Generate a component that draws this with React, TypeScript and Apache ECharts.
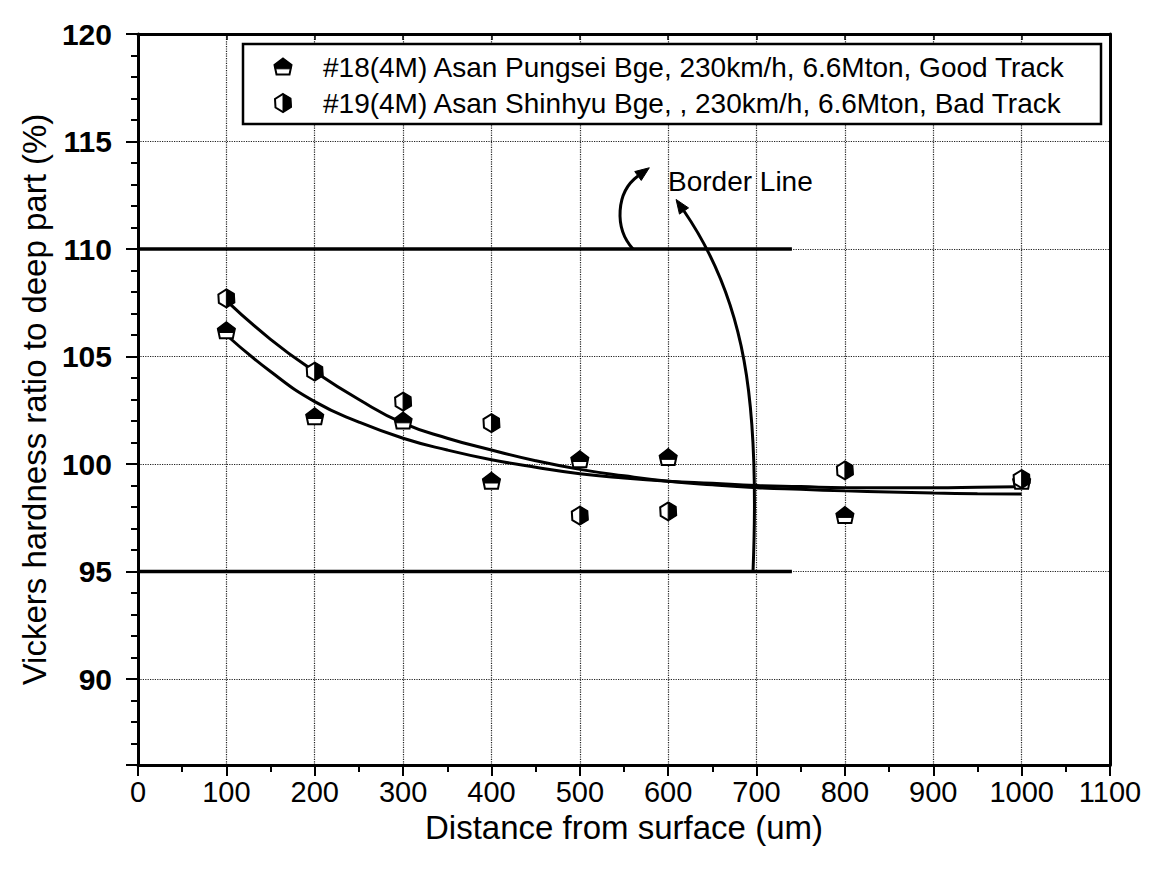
import React, { useEffect, useRef } from "react";
import * as echarts from "echarts";

// Measured points: distance from surface (um) vs hardness ratio (%)
const distances = [100, 200, 300, 400, 500, 600, 800, 1000];
const goodTrack = [106.2, 102.2, 102.0, 99.2, 100.2, 100.3, 97.6, 99.2];
const badTrack = [107.7, 104.3, 102.9, 101.9, 97.6, 97.8, 99.7, 99.3];

// Fitted decay curves, sampled every 50 um
const fitX = [100, 150, 200, 250, 300, 350, 400, 450, 500, 550, 600, 650, 700, 750, 800, 850, 900, 950, 1000];
const goodFit = [106.0, 104.3, 102.9, 101.95, 101.2, 100.65, 100.2, 99.85, 99.55, 99.35, 99.2, 99.1, 99.0, 98.95, 98.9, 98.9, 98.9, 98.92, 98.95];
const badFit = [107.6, 105.8, 104.3, 103.0, 101.9, 101.2, 100.65, 100.15, 99.75, 99.45, 99.2, 99.03, 98.9, 98.82, 98.75, 98.7, 98.65, 98.62, 98.6];

// Border lines
const borderLevels = [110, 95];
const borderRange = [0, 740];

const legendLabels = [
  "#18(4M) Asan Pungsei Bge, 230km/h, 6.6Mton, Good Track",
  "#19(4M) Asan Shinhyu Bge, , 230km/h, 6.6Mton, Bad Track",
];

const FONT = "'Liberation Sans', Arial, Helvetica, sans-serif";

type Pt = [number, number];

const shift = (pts: Pt[], cx: number, cy: number): Pt[] =>
  pts.map(([x, y]) => [cx + x, cy + y] as Pt);

// "House" pentagon: dark roof, white body
function pentagonMark(cx: number, cy: number) {
  const outline: Pt[] = [[0, -8.5], [8.5, -2], [6.5, 7.5], [-6.5, 7.5], [-8.5, -2]];
  const roof: Pt[] = [[0, -8.5], [8.5, -2], [7.7, 1.8], [-7.7, 1.8], [-8.5, -2]];
  return [
    { type: "polygon", shape: { points: shift(outline, cx, cy) }, style: { fill: "#fff", stroke: "#000", lineWidth: 2 } },
    { type: "polygon", shape: { points: shift(roof, cx, cy) }, style: { fill: "#000", stroke: "#000", lineWidth: 1 } },
  ];
}

// Hexagonal dot: left half white, right half dark
function halfDotMark(cx: number, cy: number) {
  const outline: Pt[] = [[0, -9], [7.5, -4.5], [8, 4], [0, 9], [-7.5, 4.5], [-8, -4]];
  const right: Pt[] = [[0, -9], [7.5, -4.5], [8, 4], [0, 9]];
  return [
    { type: "polygon", shape: { points: shift(outline, cx, cy) }, style: { fill: "#fff", stroke: "#000", lineWidth: 2 } },
    { type: "polygon", shape: { points: shift(right, cx, cy) }, style: { fill: "#000", stroke: "#000", lineWidth: 1 } },
  ];
}

// Curved arrow with a filled head at its end
function curvedArrow(p0: Pt, c1: Pt, c2: Pt, p1: Pt) {
  const dx = p1[0] - c2[0];
  const dy = p1[1] - c2[1];
  const len = Math.hypot(dx, dy) || 1;
  const ux = dx / len;
  const uy = dy / len;
  const headLen = 14;
  const halfW = 5.5;
  const tip: Pt = [p1[0] + ux * headLen, p1[1] + uy * headLen];
  const b1: Pt = [p1[0] - uy * halfW, p1[1] + ux * halfW];
  const b2: Pt = [p1[0] + uy * halfW, p1[1] - ux * halfW];
  return [
    {
      type: "bezierCurve",
      shape: { x1: p0[0], y1: p0[1], cpx1: c1[0], cpy1: c1[1], cpx2: c2[0], cpy2: c2[1], x2: p1[0], y2: p1[1] },
      style: { stroke: "#000", lineWidth: 3, fill: "none" },
      z: 50,
    },
    { type: "polygon", shape: { points: [tip, b1, b2] }, style: { fill: "#000", stroke: "#000", lineWidth: 1 }, z: 50 },
  ];
}

function markerSeries(name: string, values: number[], draw: (x: number, y: number) => any[]) {
  return {
    name,
    type: "custom",
    coordinateSystem: "cartesian2d",
    xAxisIndex: 0,
    yAxisIndex: 0,
    clip: false,
    z: 10,
    encode: { x: 0, y: 1 },
    data: distances.map((d, i) => [d, values[i]]),
    renderItem: (_params: any, api: any) => {
      const p = api.coord([api.value(0), api.value(1)]);
      return { type: "group", children: draw(p[0], p[1]) };
    },
  };
}

function fitSeries(name: string, values: number[]) {
  return {
    name,
    type: "line",
    smooth: true,
    showSymbol: false,
    symbol: "none",
    z: 5,
    lineStyle: { color: "#000", width: 3 },
    data: fitX.map((x, i) => [x, values[i]]),
  };
}

export default function App() {
  const ref = useRef<HTMLDivElement>(null);

  useEffect(() => {
    if (!ref.current) return;
    const chart = echarts.init(ref.current, undefined, { renderer: "svg" });

    const axisBlack = { color: "#000", width: 3 };
    const dotted = { type: "dotted" as const, color: "#222", width: 1.2 };

    const legendX = 243;
    const legendY = 44;
    const rowYs = [67, 103];

    const option: any = {
      animation: false,
      backgroundColor: "#fff",
      grid: { left: 138, right: 41, top: 34, bottom: 105, containLabel: false },
      xAxis: [
        {
          type: "value",
          position: "bottom",
          min: 0,
          max: 1100,
          interval: 100,
          name: "Distance from surface (um)",
          nameLocation: "middle",
          nameGap: 44,
          nameTextStyle: { fontFamily: FONT, fontSize: 33, color: "#000" },
          axisLine: { show: true, onZero: false, lineStyle: axisBlack },
          axisTick: { show: true, inside: false, length: 11, lineStyle: { color: "#000", width: 2 } },
          minorTick: { show: true, splitNumber: 2, length: 7, lineStyle: { color: "#000", width: 2 } },
          axisLabel: {
            fontFamily: FONT,
            fontSize: 29,
            color: "#000",
            margin: 12,
            formatter: (v: number) => String(v),
          },
          splitLine: { show: true, lineStyle: dotted },
        },
        {
          type: "value",
          position: "top",
          min: 0,
          max: 1100,
          interval: 100,
          axisLine: { show: true, onZero: false, lineStyle: axisBlack },
          axisTick: { show: true, inside: true, length: 6, lineStyle: { color: "#000", width: 1.5 } },
          axisLabel: { show: false },
          splitLine: { show: false },
        },
      ],
      yAxis: [
        {
          type: "value",
          position: "left",
          min: 86,
          max: 120,
          splitNumber: 7,
          name: "Vickers hardness ratio to deep part (%)",
          nameLocation: "middle",
          nameGap: 86,
          nameTextStyle: { fontFamily: FONT, fontSize: 33, color: "#000" },
          axisLine: { show: true, onZero: false, lineStyle: axisBlack },
          axisTick: { show: true, inside: false, length: 12, lineStyle: { color: "#000", width: 2 } },
          axisLabel: {
            fontFamily: FONT,
            fontSize: 30,
            fontWeight: "bold",
            color: "#000",
            margin: 26,
            formatter: (v: number) => (v % 5 === 0 ? String(v) : ""),
          },
          splitLine: { show: true, lineStyle: dotted },
        },
        {
          // unit ticks along the left edge
          type: "value",
          position: "left",
          min: 86,
          max: 120,
          interval: 1,
          axisLine: { show: false, onZero: false },
          axisTick: { show: true, inside: false, length: 7, lineStyle: { color: "#000", width: 2 } },
          axisLabel: { show: false },
          splitLine: { show: false },
        },
        {
          type: "value",
          position: "right",
          min: 86,
          max: 120,
          splitNumber: 7,
          axisLine: { show: true, onZero: false, lineStyle: axisBlack },
          axisTick: { show: false },
          axisLabel: { show: false },
          splitLine: { show: false },
        },
      ],
      series: [
        ...borderLevels.map((lvl) => ({
          name: `Border ${lvl}`,
          type: "line",
          symbol: "none",
          z: 4,
          lineStyle: { color: "#000", width: 3.5 },
          data: borderRange.map((x) => [x, lvl]),
        })),
        fitSeries("Good Track fit", goodFit),
        fitSeries("Bad Track fit", badFit),
        markerSeries(legendLabels[0], goodTrack, pentagonMark),
        markerSeries(legendLabels[1], badTrack, halfDotMark),
      ],
      graphic: [
        {
          type: "rect",
          z: 100,
          shape: { x: legendX, y: legendY, width: 858, height: 80 },
          style: { fill: "#fff", stroke: "#000", lineWidth: 2.5 },
        },
        ...pentagonMark(283, rowYs[0]).map((e) => ({ ...e, z: 101 })),
        ...halfDotMark(283, rowYs[1]).map((e) => ({ ...e, z: 101 })),
        ...legendLabels.map((t, i) => ({
          type: "text",
          z: 101,
          x: 323,
          y: rowYs[i],
          style: {
            text: t,
            fontFamily: FONT,
            fontSize: 28,
            fill: "#000",
            align: "left",
            verticalAlign: "middle",
            textAlign: "left",
            textVerticalAlign: "middle",
          },
        })),
        {
          type: "text",
          z: 50,
          x: 668,
          y: 181,
          style: {
            text: "Border Line",
            fontFamily: FONT,
            fontSize: 28,
            fill: "#000",
            align: "left",
            verticalAlign: "middle",
            textAlign: "left",
            textVerticalAlign: "middle",
          },
        },
        ...curvedArrow([633, 249], [614, 228], [616, 192], [638, 176]),
        ...curvedArrow([753, 572], [760, 400], [745, 300], [684, 211]),
      ],
    };

    chart.setOption(option);
    return () => chart.dispose();
  }, []);

  return (
    <div
      ref={ref}
      style={{ position: "absolute", left: 0, top: 0, width: 1151, height: 870, background: "#fff" }}
    />
  );
}
